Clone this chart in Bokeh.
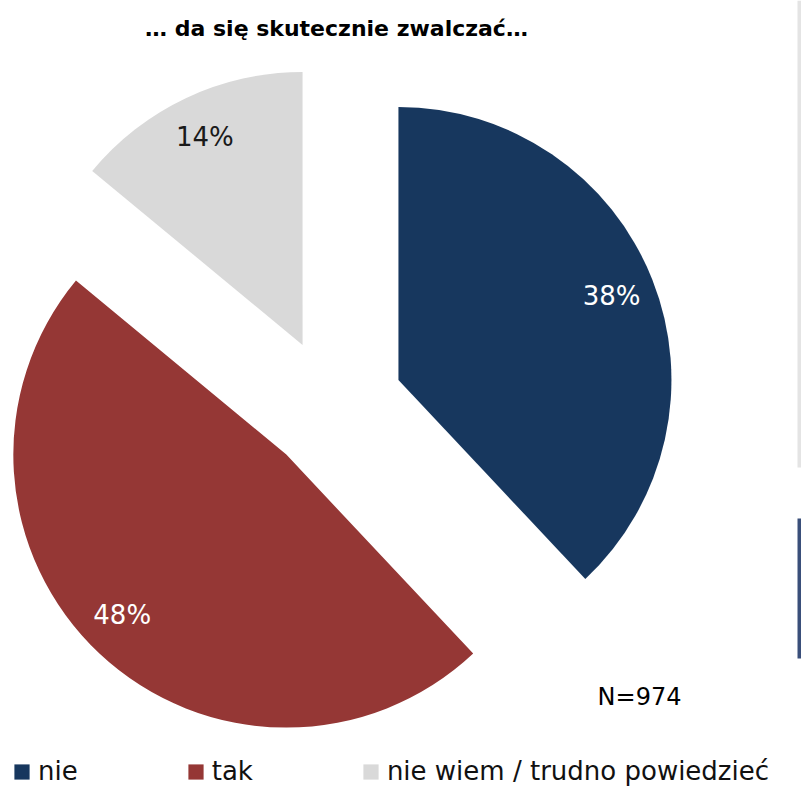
import math
from bokeh.plotting import figure
from bokeh.models import Range1d, ColumnDataSource, Label, Legend, LegendItem
from bokeh.core.properties import value
from bokeh.embed import file_html
from bokeh.resources import INLINE

# ---- data ----
categories = ["nie", "tak", "nie wiem / trudno powiedzieć"]
shares = [38, 48, 14]
pct_labels = ["38%", "48%", "14%"]
title_text = "… da się skutecznie zwalczać…"
n_text = "N=974"

# ---- style ----
colors = ["#17375E", "#953735", "#D9D9D9"]
label_colors = ["#FFFFFF", "#FFFFFF", "#1A1A1A"]
explode = [72, 66, 68]
label_angle_shift = [0.0, -2.5, 0.0]   # degrees, fine placement of slice labels
W, H = 801, 786
CX, CY, R = 331, H - 406, 273
LABEL_FRAC = 0.84

p = figure(width=W, height=H, output_backend="svg", toolbar_location=None,
           x_range=Range1d(0, W), y_range=Range1d(0, H), min_border=0,
           outline_line_color=None)
p.axis.visible = False
p.grid.visible = False
p.background_fill_color = "white"
p.border_fill_color = "white"

# decorative slide remnants at the right edge
p.quad(left=[797], right=[801], bottom=[H - 467], top=[H],
       fill_color="#E4E4E4", line_color=None)
p.quad(left=[797], right=[801], bottom=[H - 658], top=[H - 518],
       fill_color="#3A4F7A", line_color=None)

total = float(sum(shares))
cum = 0.0
xs, ys, starts, ends, lx, ly = [], [], [], [], [], []
for i, v in enumerate(shares):
    a0 = math.pi / 2 - 2 * math.pi * cum / total
    cum += v
    a1 = math.pi / 2 - 2 * math.pi * cum / total
    mid = (a0 + a1) / 2
    x = CX + explode[i] * math.cos(mid)
    y = CY + explode[i] * math.sin(mid)
    xs.append(x); ys.append(y)
    starts.append(a1); ends.append(a0)
    la = mid + math.radians(label_angle_shift[i])
    lx.append(x + LABEL_FRAC * R * math.cos(la))
    ly.append(y + LABEL_FRAC * R * math.sin(la))

items = []
for i in range(len(shares)):
    src = ColumnDataSource(dict(x=[xs[i]], y=[ys[i]], s=[starts[i]], e=[ends[i]]))
    r = p.wedge(x="x", y="y", radius=R, start_angle="s", end_angle="e",
                fill_color=colors[i], line_color=None, source=src)
    items.append(LegendItem(label=categories[i], renderers=[r]))

lab_src = ColumnDataSource(dict(x=lx, y=ly, t=pct_labels, c=label_colors))
p.text(x="x", y="y", text="t", text_color="c", source=lab_src,
       text_font=value("DejaVu Sans"), text_font_size="26px",
       text_align="center", text_baseline="middle")

p.add_layout(Label(x=336, y=H - 28, x_units="screen", y_units="screen",
                   text=title_text, text_font="DejaVu Sans", text_font_style="bold",
                   text_font_size="22px", text_color="black",
                   text_align="center", text_baseline="middle"))

p.add_layout(Label(x=639, y=H - 696, x_units="screen", y_units="screen",
                   text=n_text, text_font="DejaVu Sans", text_font_size="24px",
                   text_color="black", text_align="center", text_baseline="middle"))

legend = Legend(items=items, orientation="horizontal", location=(12, 0),
                glyph_width=19, glyph_height=19, label_standoff=7, spacing=108,
                label_text_font="DejaVu Sans", label_text_font_size="26px",
                label_text_color="#111111", padding=0, margin=0,
                border_line_alpha=0, background_fill_alpha=0)
p.add_layout(legend, "center")

open("out.html", "w").write(file_html(p, INLINE))
